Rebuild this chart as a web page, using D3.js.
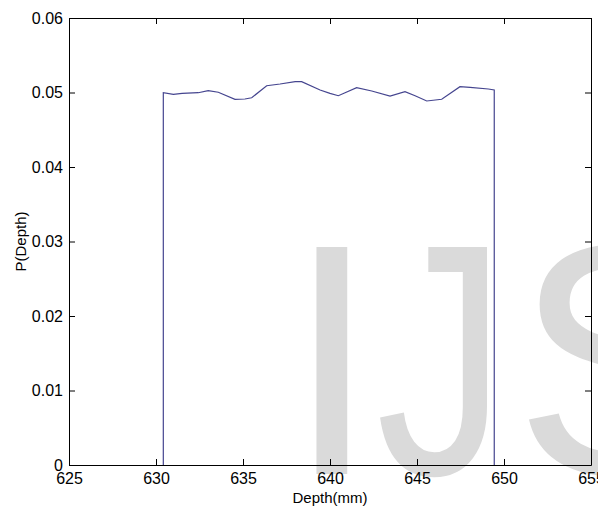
<!DOCTYPE html>
<html>
<head>
<meta charset="utf-8">
<script src="https://cdn.jsdelivr.net/npm/d3@7"></script>
<style>
  body { margin: 0; background: #fff; }
  svg { display: block; }
  .axis text { font-family: "Liberation Sans", Arial, sans-serif; font-size: 16px; fill: #000; }
  .axis path, .axis line { stroke: #000; }
</style>
</head>
<body>
<div id="chart"></div>
<script>
    // Depth values (mm) of the curve vertices
    var depth = [630.42, 630.42, 631.0, 631.5, 632.43, 633.0, 633.58, 634.54, 635.11, 635.5,
                 636.36, 637.13, 638.0, 638.37, 639.43, 640.0, 640.48, 641.53, 642.40,
                 643.45, 644.31, 644.89, 645.56, 646.42, 647.47, 648.05, 649.1, 649.44, 649.44];
    // P(Depth) at each vertex
    var prob = [0, 0.04997, 0.04976, 0.04989, 0.04997, 0.05024, 0.05003, 0.04909, 0.04913, 0.04930,
                0.05091, 0.05114, 0.05145, 0.05145, 0.05034, 0.04989, 0.04957, 0.05064, 0.05020,
                0.04953, 0.05011, 0.04957, 0.04886, 0.04909, 0.05078, 0.05070, 0.05047, 0.05034, 0];

    var xTicks = [625, 630, 635, 640, 645, 650, 655];
    var yTicks = [0, 0.01, 0.02, 0.03, 0.04, 0.05, 0.06];
    var watermark = ["I", "J", "S"];

    var width = 598, height = 514;
    var margin = { top: 18, right: 7, bottom: 49, left: 69 };
    var innerW = width - margin.left - margin.right;
    var innerH = height - margin.top - margin.bottom;

    var svg = d3.select("#chart")
      .append("svg")
      .attr("width", width)
      .attr("height", height);

    // Background watermark letters (the J is narrower in the source)
    var wmPos = ["translate(286,474)", "translate(376,474) scale(0.79,1)", "translate(514,474)"];
    svg.append("g")
      .selectAll("text")
      .data(watermark)
      .enter()
      .append("text")
      .attr("transform", function (d, i) { return wmPos[i]; })
      .attr("font-family", "Liberation Sans, Arial, sans-serif")
      .attr("font-size", 330)
      .attr("fill", "#dadada")
      .text(function (d) { return d; });

    var g = svg.append("g")
      .attr("transform", "translate(" + margin.left + "," + margin.top + ")");

    var x = d3.scaleLinear().domain([625, 655]).range([0, innerW]);
    var y = d3.scaleLinear().domain([0, 0.06]).range([innerH, 0]);

    // Axes with inward ticks (MATLAB style), mirrored on top and right
    g.append("g")
      .attr("class", "axis")
      .attr("transform", "translate(0," + innerH + ")")
      .call(d3.axisBottom(x).tickValues(xTicks).tickFormat(d3.format("d"))
        .tickSizeInner(-6).tickSizeOuter(0).tickPadding(8));

    g.append("g")
      .attr("class", "axis")
      .call(d3.axisTop(x).tickValues(xTicks).tickFormat("")
        .tickSizeInner(-6).tickSizeOuter(0));

    g.append("g")
      .attr("class", "axis")
      .call(d3.axisLeft(y).tickValues(yTicks)
        .tickFormat(function (d) { return d === 0 ? "0" : d3.format(".2f")(d); })
        .tickSizeInner(-6).tickSizeOuter(0).tickPadding(6));

    g.append("g")
      .attr("class", "axis")
      .attr("transform", "translate(" + innerW + ",0)")
      .call(d3.axisRight(y).tickValues(yTicks).tickFormat("")
        .tickSizeInner(-6).tickSizeOuter(0));

    // The curve
    var line = d3.line()
      .x(function (d, i) { return x(depth[i]); })
      .y(function (d, i) { return y(prob[i]); });

    g.append("path")
      .datum(depth)
      .attr("fill", "none")
      .attr("stroke", "#45458f")
      .attr("stroke-width", 1.2)
      .attr("d", line);

    // Axis labels
    svg.append("text")
      .attr("x", margin.left + innerW / 2)
      .attr("y", 503)
      .attr("text-anchor", "middle")
      .attr("font-family", "Liberation Sans, Arial, sans-serif")
      .attr("font-size", 15)
      .text("Depth(mm)");

    svg.append("text")
      .attr("transform", "translate(26," + (margin.top + innerH / 2) + ") rotate(-90)")
      .attr("text-anchor", "middle")
      .attr("font-family", "Liberation Sans, Arial, sans-serif")
      .attr("font-size", 15)
      .text("P(Depth)");
</script>
</body>
</html>
